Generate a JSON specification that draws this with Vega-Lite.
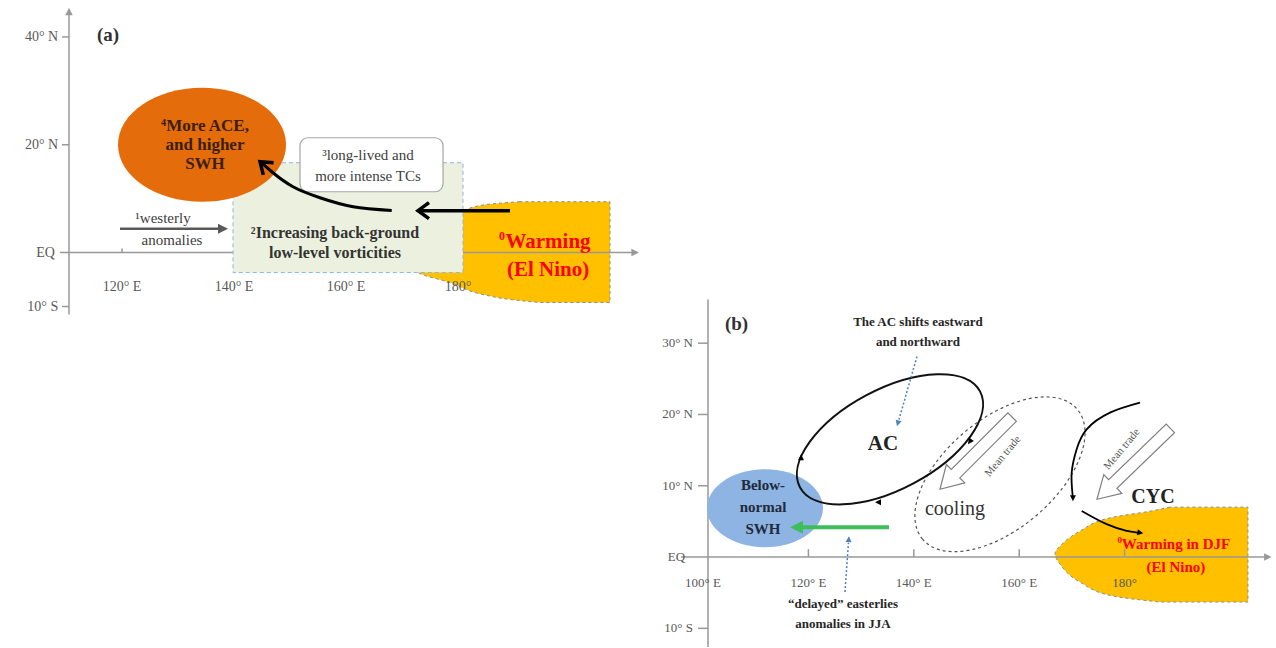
{
  "$schema": "https://vega.github.io/schema/vega-lite/v6.json",
  "width": 1276,
  "height": 648,
  "autosize": {"type": "fit", "contains": "padding"},
  "padding": 0,
  "background": "white",
  "config": {"view": {"stroke": null}, "font": "Liberation Serif"},
  "datasets": {
    "aRules": [
      {"lon": 110.53, "lon2": 110.53, "lat": -11.48, "lat2": 44.3},
      {"lon": 108.9, "lon2": 211.5, "lat": 0, "lat2": 0},
      {"lon": 109.28, "lon2": 110.53, "lat": 40, "lat2": 40},
      {"lon": 109.28, "lon2": 110.53, "lat": 20, "lat2": 20},
      {"lon": 109.28, "lon2": 110.53, "lat": -10, "lat2": -10},
      {"lon": 120, "lon2": 120, "lat": 0, "lat2": 0.74}
    ],
    "aHeads": [
      {"lon": 110.53, "lat": 45.4, "ang": 270, "col": "#999999", "sz": 2.25},
      {"lon": 212.3, "lat": 0, "ang": 0, "col": "#999999", "sz": 2.25},
      {"lon": 138.93, "lat": 4.44, "ang": 0, "col": "#595959", "sz": 4}
    ],
    "aChev": [
      {"lon": 172.85, "lat": 7.78, "ang": 180},
      {"lon": 144.64, "lat": 16.85, "ang": 220}
    ],
    "aLines": [
      {"g": "w", "i": 0, "lon": 119.64, "lat": 4.44, "col": "#595959", "w": 2.5},
      {"g": "w", "i": 1, "lon": 137.7, "lat": 4.44, "col": "#595959", "w": 2.5},
      {"g": "s", "i": 0, "lon": 189.28, "lat": 7.78, "col": "#000000", "w": 3.5},
      {"g": "s", "i": 1, "lon": 173.3, "lat": 7.78, "col": "#000000", "w": 3.5},
      {"g": "c", "i": 0, "lon": 168.16, "lat": 7.83, "col": "#000000", "w": 3},
      {"g": "c", "i": 1, "lon": 161.25, "lat": 8.52, "col": "#000000", "w": 3},
      {"g": "c", "i": 2, "lon": 155.35, "lat": 10.18, "col": "#000000", "w": 3},
      {"g": "c", "i": 3, "lon": 150.53, "lat": 12.22, "col": "#000000", "w": 3},
      {"g": "c", "i": 4, "lon": 146.96, "lat": 14.81, "col": "#000000", "w": 3},
      {"g": "c", "i": 5, "lon": 145.0, "lat": 16.6, "col": "#000000", "w": 3}
    ],
    "aArea": [
      {"lat": 9.44, "lonL": 191.07, "lonR": 207.14},
      {"lat": 8.89, "lonL": 184.82, "lonR": 207.14},
      {"lat": 7.04, "lonL": 179.46, "lonR": 207.14},
      {"lat": 2.41, "lonL": 173.21, "lonR": 207.14},
      {"lat": -1.67, "lonL": 171.43, "lonR": 207.14},
      {"lat": -3.7, "lonL": 172.85, "lonR": 207.14},
      {"lat": -5.56, "lonL": 178.57, "lonR": 207.14},
      {"lat": -7.78, "lonL": 184.46, "lonR": 207.14},
      {"lat": -8.7, "lonL": 189.28, "lonR": 207.14},
      {"lat": -9.26, "lonL": 194.64, "lonR": 207.14}
    ],
    "aGreen": [{"lon": 139.82, "lon2": 180.89, "lat": 16.66, "lat2": -3.7}],
    "aWhite": [{"lon": 151.78, "lon2": 177.32, "lat": 21.3, "lat2": 11.29}],
    "aEll": [{"lon": 134.28, "lat": 20.0}],
    "aTickL": [
      {"lon": 108.6, "lat": 40, "t": "40° N"},
      {"lon": 108.6, "lat": 20, "t": "20° N"},
      {"lon": 108.0, "lat": 0, "t": "EQ"},
      {"lon": 108.6, "lat": -10, "t": "10° S"}
    ],
    "aTickB": [
      {"lon": 120, "lat": -6.3, "t": "120° E"},
      {"lon": 140, "lat": -6.3, "t": "140° E"},
      {"lon": 160, "lat": -6.3, "t": "160° E"},
      {"lon": 180, "lat": -6.3, "t": "180°"}
    ],
    "aTitle": [{"lon": 115.53, "lat": 40.37, "t": "(a)"}],
    "aEllText": [{"lon": 134.82, "lat": 20.0, "t": "⁴More ACE,\nand higher\nSWH"}],
    "aGreenText": [{"lon": 158.03, "lat": 1.85, "t": "²Increasing back-ground\nlow-level vorticities"}],
    "aWhiteText": [{"lon": 163.92, "lat": 16.11, "t": "³long-lived and\nmore intense TCs"}],
    "aWestText": [
      {"lon": 127.32, "lat": 6.48, "t": "¹westerly"},
      {"lon": 128.93, "lat": 2.41, "t": "anomalies"}
    ],
    "aWarmText": [{"lon": 196.07, "lat": -0.56, "t": "Warming\n(El Nino)"}],
    "aWarmSup": [{"lon": 196.07, "lat": -0.56, "t": "0"}],
    "bRules": [
      {"lon": 100.95, "lon2": 100.95, "lat": -12.62, "lat2": 36.12},
      {"lon": 95.8, "lon2": 207.2, "lat": 0, "lat2": 0},
      {"lon": 99.05, "lon2": 100.95, "lat": 30, "lat2": 30},
      {"lon": 99.05, "lon2": 100.95, "lat": 20, "lat2": 20},
      {"lon": 99.05, "lon2": 100.95, "lat": 10, "lat2": 10},
      {"lon": 99.05, "lon2": 100.95, "lat": -10, "lat2": -10},
      {"lon": 120, "lon2": 120, "lat": 0, "lat2": 1.1},
      {"lon": 140, "lon2": 140, "lat": 0, "lat2": 1.1},
      {"lon": 160, "lon2": 160, "lat": 0, "lat2": 1.1},
      {"lon": 180, "lon2": 180, "lat": 0, "lat2": 1.1}
    ],
    "bHeads": [
      {"lon": 207.9, "lat": 0, "ang": 0, "col": "#999999", "sz": 2.25},
      {"lon": 116.51, "lat": 4.19, "ang": 180, "col": "#3DBE5A", "sz": 6.76},
      {"lon": 136.81, "lat": 18.34, "ang": 106, "col": "#4F81BD", "sz": 1.44},
      {"lon": 127.7, "lat": 2.93, "ang": 274, "col": "#4F81BD", "sz": 1.44},
      {"lon": 118.6, "lat": 14.41, "ang": 270, "col": "#000000", "sz": 1.44},
      {"lon": 132.64, "lat": 7.69, "ang": 180, "col": "#000000", "sz": 1.44},
      {"lon": 150.28, "lat": 15.82, "ang": 125, "col": "#000000", "sz": 1.44},
      {"lon": 170.2, "lat": 7.83, "ang": 90, "col": "#000000", "sz": 1.44},
      {"lon": 183.55, "lat": 3.35, "ang": 8, "col": "#000000", "sz": 1.44}
    ],
    "bLines": [
      {"g": "green", "i": 0, "lon": 135.29, "lat": 4.19, "col": "#3DBE5A", "w": 4},
      {"g": "green", "i": 1, "lon": 118.6, "lat": 4.19, "col": "#3DBE5A", "w": 4},
      {"g": "c1", "i": 0, "lon": 182.92, "lat": 21.66, "col": "#000000", "w": 1.8},
      {"g": "c1", "i": 1, "lon": 177.23, "lat": 20.26, "col": "#000000", "w": 1.8},
      {"g": "c1", "i": 2, "lon": 172.8, "lat": 17.92, "col": "#000000", "w": 1.8},
      {"g": "c1", "i": 3, "lon": 170.9, "lat": 15.12, "col": "#000000", "w": 1.8},
      {"g": "c1", "i": 4, "lon": 169.96, "lat": 11.85, "col": "#000000", "w": 1.8},
      {"g": "c1", "i": 5, "lon": 170.15, "lat": 8.58, "col": "#000000", "w": 1.8},
      {"g": "c2", "i": 0, "lon": 171.86, "lat": 6.47, "col": "#000000", "w": 1.8},
      {"g": "c2", "i": 1, "lon": 176.6, "lat": 4.61, "col": "#000000", "w": 1.8},
      {"g": "c2", "i": 2, "lon": 180.4, "lat": 3.67, "col": "#000000", "w": 1.8},
      {"g": "c2", "i": 3, "lon": 182.8, "lat": 3.4, "col": "#000000", "w": 1.8}
    ],
    "bDots": [
      {"g": "d1", "i": 0, "lon": 140.6, "lat": 28.14},
      {"g": "d1", "i": 1, "lon": 137.2, "lat": 19.3},
      {"g": "d2", "i": 0, "lon": 126.94, "lat": -4.91},
      {"g": "d2", "i": 1, "lon": 127.6, "lat": 2.0}
    ],
    "bArea": [
      {"lat": 7.0, "lonL": 188.6, "lonR": 203.41},
      {"lat": 6.43, "lonL": 184.82, "lonR": 203.41},
      {"lat": 5.59, "lonL": 177.8, "lonR": 203.41},
      {"lat": 3.63, "lonL": 171.53, "lonR": 203.41},
      {"lat": 1.81, "lonL": 168.12, "lonR": 203.41},
      {"lat": 0.41, "lonL": 166.79, "lonR": 203.41},
      {"lat": -0.99, "lonL": 167.74, "lonR": 203.41},
      {"lat": -3.51, "lonL": 171.53, "lonR": 203.41},
      {"lat": -5.47, "lonL": 177.8, "lonR": 203.41},
      {"lat": -6.31, "lonL": 186.71, "lonR": 203.41}
    ],
    "bBlue": [{"lon": 111.76, "lat": 6.85}],
    "bCool": [{"lon": 156.35, "lat": 11.61}],
    "bAC": [{"lon": 135.48, "lat": 16.52}],
    "bTrade": [
      {"lon": 144.97, "lat": 9.51, "ang": 135},
      {"lon": 174.76, "lat": 8.11, "ang": 136}
    ],
    "bTickL": [
      {"lon": 98.1, "lat": 30, "t": "30° N"},
      {"lon": 98.1, "lat": 20, "t": "20° N"},
      {"lon": 98.1, "lat": 10, "t": "10° N"},
      {"lon": 96.6, "lat": 0, "t": "EQ"},
      {"lon": 98.1, "lat": -10, "t": "10° S"}
    ],
    "bTickB": [
      {"lon": 100, "lat": -3.65, "t": "100° E"},
      {"lon": 120, "lat": -3.65, "t": "120° E"},
      {"lon": 140, "lat": -3.65, "t": "140° E"},
      {"lon": 160, "lat": -3.65, "t": "160° E"},
      {"lon": 180, "lat": -3.65, "t": "180°"}
    ],
    "bTitle": [{"lon": 104.17, "lat": 32.62, "t": "(b)"}],
    "bBlueText": [{"lon": 111.38, "lat": 6.99, "t": "Below-\nnormal\nSWH"}],
    "bACText": [{"lon": 134.15, "lat": 15.82, "t": "AC"}],
    "bSmallBold": [
      {"lon": 140.79, "lat": 31.5, "t": "The AC shifts eastward\nand northward"},
      {"lon": 126.56, "lat": -7.99, "t": "“delayed” easterlies\nanomalies in JJA"}
    ],
    "bCoolText": [{"lon": 147.81, "lat": 6.71, "t": "cooling"}],
    "bTradeText": [
      {"lon": 156.92, "lat": 14.13, "t": "Mean trade"},
      {"lon": 179.5, "lat": 15.12, "t": "Mean trade"}
    ],
    "bCYC": [{"lon": 185.39, "lat": 8.39, "t": "CYC"}],
    "bWarmText": [{"lon": 189.75, "lat": 0.2, "t": "Warming in DJF\n(El Nino)"}],
    "bWarmSup": [{"lon": 189.75, "lat": 0.2, "t": "0"}]
  },
  "resolve": {"scale": {"x": "independent", "y": "independent"}},
  "layer": [
    {
      "layer": [
        {
          "data": {"name": "aArea"},
          "mark": {"type": "area", "orient": "horizontal", "interpolate": "monotone", "fill": "#FFC000", "opacity": 1, "stroke": "#7A8FA6", "strokeWidth": 1, "strokeDash": [3, 3]},
          "encoding": {
            "x": {"field": "lonL", "type": "quantitative", "scale": {"domain": [98.21, 326.07], "nice": false, "zero": false}, "axis": null},
            "x2": {"field": "lonR"},
            "y": {"field": "lat", "type": "quantitative", "scale": {"domain": [-73.15, 46.85], "nice": false, "zero": false}, "axis": null}
          }
        },
        {
          "data": {"name": "aRules"},
          "mark": {"type": "rule", "color": "#999999", "strokeWidth": 1.5},
          "encoding": {
            "x": {"field": "lon", "type": "quantitative", "scale": {"domain": [98.21, 326.07], "nice": false, "zero": false}, "axis": null},
            "x2": {"field": "lon2"},
            "y": {"field": "lat", "type": "quantitative", "scale": {"domain": [-73.15, 46.85], "nice": false, "zero": false}, "axis": null},
            "y2": {"field": "lat2"}
          }
        },
        {
          "data": {"name": "aGreen"},
          "mark": {"type": "rect", "fill": "#EBF1DE", "stroke": "#8EB4E3", "strokeWidth": 1, "strokeDash": [4, 3]},
          "encoding": {
            "x": {"field": "lon", "type": "quantitative", "scale": {"domain": [98.21, 326.07], "nice": false, "zero": false}, "axis": null},
            "x2": {"field": "lon2"},
            "y": {"field": "lat", "type": "quantitative", "scale": {"domain": [-73.15, 46.85], "nice": false, "zero": false}, "axis": null},
            "y2": {"field": "lat2"}
          }
        },
        {
          "data": {"name": "aEll"},
          "mark": {"type": "point", "shape": "M -84 0 A 84 57 0 1 1 84 0 A 84 57 0 1 1 -84 0 Z", "size": 4, "filled": true, "fill": "#E46C0A", "opacity": 1, "strokeWidth": 0},
          "encoding": {
            "x": {"field": "lon", "type": "quantitative", "scale": {"domain": [98.21, 326.07], "nice": false, "zero": false}, "axis": null},
            "y": {"field": "lat", "type": "quantitative", "scale": {"domain": [-73.15, 46.85], "nice": false, "zero": false}, "axis": null}
          }
        },
        {
          "data": {"name": "aWhite"},
          "mark": {"type": "rect", "fill": "#FFFFFF", "stroke": "#A6A6A6", "strokeWidth": 1.2, "cornerRadius": 8},
          "encoding": {
            "x": {"field": "lon", "type": "quantitative", "scale": {"domain": [98.21, 326.07], "nice": false, "zero": false}, "axis": null},
            "x2": {"field": "lon2"},
            "y": {"field": "lat", "type": "quantitative", "scale": {"domain": [-73.15, 46.85], "nice": false, "zero": false}, "axis": null},
            "y2": {"field": "lat2"}
          }
        },
        {
          "data": {"name": "aLines"},
          "mark": {"type": "line", "interpolate": "natural", "strokeCap": "butt"},
          "encoding": {
            "x": {"field": "lon", "type": "quantitative", "scale": {"domain": [98.21, 326.07], "nice": false, "zero": false}, "axis": null},
            "y": {"field": "lat", "type": "quantitative", "scale": {"domain": [-73.15, 46.85], "nice": false, "zero": false}, "axis": null},
            "order": {"field": "i"},
            "detail": {"field": "g"},
            "color": {"field": "col", "type": "nominal", "scale": null},
            "strokeWidth": {"field": "w", "type": "quantitative", "scale": null}
          }
        },
        {
          "data": {"name": "aHeads"},
          "mark": {"type": "point", "shape": "M 0 0 L -10 -5 L -10 5 Z", "filled": true, "opacity": 1, "strokeWidth": 0},
          "encoding": {
            "x": {"field": "lon", "type": "quantitative", "scale": {"domain": [98.21, 326.07], "nice": false, "zero": false}, "axis": null},
            "y": {"field": "lat", "type": "quantitative", "scale": {"domain": [-73.15, 46.85], "nice": false, "zero": false}, "axis": null},
            "angle": {"field": "ang", "type": "quantitative", "scale": null},
            "color": {"field": "col", "type": "nominal", "scale": null},
            "size": {"field": "sz", "type": "quantitative", "scale": null}
          }
        },
        {
          "data": {"name": "aChev"},
          "mark": {"type": "point", "shape": "M -11 -8 L 0 0 L -11 8", "size": 4, "filled": false, "opacity": 1, "stroke": "#000000", "strokeWidth": 3.5},
          "encoding": {
            "x": {"field": "lon", "type": "quantitative", "scale": {"domain": [98.21, 326.07], "nice": false, "zero": false}, "axis": null},
            "y": {"field": "lat", "type": "quantitative", "scale": {"domain": [-73.15, 46.85], "nice": false, "zero": false}, "axis": null},
            "angle": {"field": "ang", "type": "quantitative", "scale": null}
          }
        },
        {
          "data": {"name": "aTickL"},
          "mark": {"type": "text", "font": "Liberation Serif", "fontSize": 14, "color": "#595959", "align": "right", "baseline": "middle"},
          "encoding": {
            "x": {"field": "lon", "type": "quantitative", "scale": {"domain": [98.21, 326.07], "nice": false, "zero": false}, "axis": null},
            "y": {"field": "lat", "type": "quantitative", "scale": {"domain": [-73.15, 46.85], "nice": false, "zero": false}, "axis": null},
            "text": {"field": "t"}
          }
        },
        {
          "data": {"name": "aTickB"},
          "mark": {"type": "text", "font": "Liberation Serif", "fontSize": 14, "color": "#595959", "align": "center", "baseline": "middle"},
          "encoding": {
            "x": {"field": "lon", "type": "quantitative", "scale": {"domain": [98.21, 326.07], "nice": false, "zero": false}, "axis": null},
            "y": {"field": "lat", "type": "quantitative", "scale": {"domain": [-73.15, 46.85], "nice": false, "zero": false}, "axis": null},
            "text": {"field": "t"}
          }
        },
        {
          "data": {"name": "aTitle"},
          "mark": {"type": "text", "font": "Liberation Serif", "fontSize": 19, "fontWeight": "bold", "color": "#333333", "align": "left", "baseline": "middle"},
          "encoding": {
            "x": {"field": "lon", "type": "quantitative", "scale": {"domain": [98.21, 326.07], "nice": false, "zero": false}, "axis": null},
            "y": {"field": "lat", "type": "quantitative", "scale": {"domain": [-73.15, 46.85], "nice": false, "zero": false}, "axis": null},
            "text": {"field": "t"}
          }
        },
        {
          "data": {"name": "aEllText"},
          "mark": {"type": "text", "font": "Liberation Serif", "fontSize": 17, "fontWeight": "bold", "color": "#3A1E05", "align": "center", "baseline": "middle", "lineBreak": "\n", "lineHeight": 19, "dy": -19},
          "encoding": {
            "x": {"field": "lon", "type": "quantitative", "scale": {"domain": [98.21, 326.07], "nice": false, "zero": false}, "axis": null},
            "y": {"field": "lat", "type": "quantitative", "scale": {"domain": [-73.15, 46.85], "nice": false, "zero": false}, "axis": null},
            "text": {"field": "t"}
          }
        },
        {
          "data": {"name": "aGreenText"},
          "mark": {"type": "text", "font": "Liberation Serif", "fontSize": 16, "fontWeight": "bold", "color": "#333333", "align": "center", "baseline": "middle", "lineBreak": "\n", "lineHeight": 20, "dy": -10},
          "encoding": {
            "x": {"field": "lon", "type": "quantitative", "scale": {"domain": [98.21, 326.07], "nice": false, "zero": false}, "axis": null},
            "y": {"field": "lat", "type": "quantitative", "scale": {"domain": [-73.15, 46.85], "nice": false, "zero": false}, "axis": null},
            "text": {"field": "t"}
          }
        },
        {
          "data": {"name": "aWhiteText"},
          "mark": {"type": "text", "font": "Liberation Serif", "fontSize": 15, "color": "#404040", "align": "center", "baseline": "middle", "lineBreak": "\n", "lineHeight": 21, "dy": -10.5},
          "encoding": {
            "x": {"field": "lon", "type": "quantitative", "scale": {"domain": [98.21, 326.07], "nice": false, "zero": false}, "axis": null},
            "y": {"field": "lat", "type": "quantitative", "scale": {"domain": [-73.15, 46.85], "nice": false, "zero": false}, "axis": null},
            "text": {"field": "t"}
          }
        },
        {
          "data": {"name": "aWestText"},
          "mark": {"type": "text", "font": "Liberation Serif", "fontSize": 15, "color": "#404040", "align": "center", "baseline": "middle"},
          "encoding": {
            "x": {"field": "lon", "type": "quantitative", "scale": {"domain": [98.21, 326.07], "nice": false, "zero": false}, "axis": null},
            "y": {"field": "lat", "type": "quantitative", "scale": {"domain": [-73.15, 46.85], "nice": false, "zero": false}, "axis": null},
            "text": {"field": "t"}
          }
        },
        {
          "data": {"name": "aWarmText"},
          "mark": {"type": "text", "font": "Liberation Serif", "fontSize": 21, "fontWeight": "bold", "color": "#FF0000", "align": "center", "baseline": "middle", "lineBreak": "\n", "lineHeight": 28, "dy": -14},
          "encoding": {
            "x": {"field": "lon", "type": "quantitative", "scale": {"domain": [98.21, 326.07], "nice": false, "zero": false}, "axis": null},
            "y": {"field": "lat", "type": "quantitative", "scale": {"domain": [-73.15, 46.85], "nice": false, "zero": false}, "axis": null},
            "text": {"field": "t"}
          }
        },
        {
          "data": {"name": "aWarmSup"},
          "mark": {"type": "text", "font": "Liberation Serif", "fontSize": 12, "fontWeight": "bold", "color": "#FF0000", "align": "right", "baseline": "middle", "dx": -43, "dy": -20},
          "encoding": {
            "x": {"field": "lon", "type": "quantitative", "scale": {"domain": [98.21, 326.07], "nice": false, "zero": false}, "axis": null},
            "y": {"field": "lat", "type": "quantitative", "scale": {"domain": [-73.15, 46.85], "nice": false, "zero": false}, "axis": null},
            "text": {"field": "t"}
          }
        }
      ]
    },
    {
      "layer": [
        {
          "data": {"name": "bArea"},
          "mark": {"type": "area", "orient": "horizontal", "interpolate": "monotone", "fill": "#FFC000", "opacity": 1, "stroke": "#7A8FA6", "strokeWidth": 1, "strokeDash": [3, 3]},
          "encoding": {
            "x": {"field": "lonL", "type": "quantitative", "scale": {"domain": [-33.4, 208.73], "nice": false, "zero": false}, "axis": null},
            "x2": {"field": "lonR"},
            "y": {"field": "lat", "type": "quantitative", "scale": {"domain": [-12.62, 78.14], "nice": false, "zero": false}, "axis": null}
          }
        },
        {
          "data": {"name": "bRules"},
          "mark": {"type": "rule", "color": "#999999", "strokeWidth": 1.5},
          "encoding": {
            "x": {"field": "lon", "type": "quantitative", "scale": {"domain": [-33.4, 208.73], "nice": false, "zero": false}, "axis": null},
            "x2": {"field": "lon2"},
            "y": {"field": "lat", "type": "quantitative", "scale": {"domain": [-12.62, 78.14], "nice": false, "zero": false}, "axis": null},
            "y2": {"field": "lat2"}
          }
        },
        {
          "data": {"name": "bBlue"},
          "mark": {"type": "point", "shape": "M -58 0 A 58 39 0 1 1 58 0 A 58 39 0 1 1 -58 0 Z", "size": 4, "filled": true, "fill": "#8DB4E2", "opacity": 1, "strokeWidth": 0},
          "encoding": {
            "x": {"field": "lon", "type": "quantitative", "scale": {"domain": [-33.4, 208.73], "nice": false, "zero": false}, "axis": null},
            "y": {"field": "lat", "type": "quantitative", "scale": {"domain": [-12.62, 78.14], "nice": false, "zero": false}, "axis": null}
          }
        },
        {
          "data": {"name": "bCool"},
          "mark": {"type": "point", "shape": "M -101 0 A 101 55 0 1 1 101 0 A 101 55 0 1 1 -101 0 Z", "size": 4, "filled": false, "opacity": 1, "stroke": "#555555", "strokeWidth": 1.2, "strokeDash": [3, 3], "angle": 320},
          "encoding": {
            "x": {"field": "lon", "type": "quantitative", "scale": {"domain": [-33.4, 208.73], "nice": false, "zero": false}, "axis": null},
            "y": {"field": "lat", "type": "quantitative", "scale": {"domain": [-12.62, 78.14], "nice": false, "zero": false}, "axis": null}
          }
        },
        {
          "data": {"name": "bAC"},
          "mark": {"type": "point", "shape": "M -102 0 A 102 50 0 1 1 102 0 A 102 50 0 1 1 -102 0 Z", "size": 4, "filled": false, "opacity": 1, "stroke": "#111111", "strokeWidth": 2, "angle": 332},
          "encoding": {
            "x": {"field": "lon", "type": "quantitative", "scale": {"domain": [-33.4, 208.73], "nice": false, "zero": false}, "axis": null},
            "y": {"field": "lat", "type": "quantitative", "scale": {"domain": [-12.62, 78.14], "nice": false, "zero": false}, "axis": null}
          }
        },
        {
          "data": {"name": "bTrade"},
          "mark": {"type": "point", "shape": "M 0 0 L -22 -13 L -22 -6 L -102 -6 L -102 6 L -22 6 L -22 13 Z", "size": 4, "filled": true, "fill": "#FFFFFF", "opacity": 1, "stroke": "#7F7F7F", "strokeWidth": 1.2},
          "encoding": {
            "x": {"field": "lon", "type": "quantitative", "scale": {"domain": [-33.4, 208.73], "nice": false, "zero": false}, "axis": null},
            "y": {"field": "lat", "type": "quantitative", "scale": {"domain": [-12.62, 78.14], "nice": false, "zero": false}, "axis": null},
            "angle": {"field": "ang", "type": "quantitative", "scale": null}
          }
        },
        {
          "data": {"name": "bLines"},
          "mark": {"type": "line", "interpolate": "natural", "strokeCap": "butt"},
          "encoding": {
            "x": {"field": "lon", "type": "quantitative", "scale": {"domain": [-33.4, 208.73], "nice": false, "zero": false}, "axis": null},
            "y": {"field": "lat", "type": "quantitative", "scale": {"domain": [-12.62, 78.14], "nice": false, "zero": false}, "axis": null},
            "order": {"field": "i"},
            "detail": {"field": "g"},
            "color": {"field": "col", "type": "nominal", "scale": null},
            "strokeWidth": {"field": "w", "type": "quantitative", "scale": null}
          }
        },
        {
          "data": {"name": "bDots"},
          "mark": {"type": "line", "color": "#4F81BD", "strokeWidth": 1.5, "strokeDash": [2, 2]},
          "encoding": {
            "x": {"field": "lon", "type": "quantitative", "scale": {"domain": [-33.4, 208.73], "nice": false, "zero": false}, "axis": null},
            "y": {"field": "lat", "type": "quantitative", "scale": {"domain": [-12.62, 78.14], "nice": false, "zero": false}, "axis": null},
            "order": {"field": "i"},
            "detail": {"field": "g"}
          }
        },
        {
          "data": {"name": "bHeads"},
          "mark": {"type": "point", "shape": "M 0 0 L -10 -5 L -10 5 Z", "filled": true, "opacity": 1, "strokeWidth": 0},
          "encoding": {
            "x": {"field": "lon", "type": "quantitative", "scale": {"domain": [-33.4, 208.73], "nice": false, "zero": false}, "axis": null},
            "y": {"field": "lat", "type": "quantitative", "scale": {"domain": [-12.62, 78.14], "nice": false, "zero": false}, "axis": null},
            "angle": {"field": "ang", "type": "quantitative", "scale": null},
            "color": {"field": "col", "type": "nominal", "scale": null},
            "size": {"field": "sz", "type": "quantitative", "scale": null}
          }
        },
        {
          "data": {"name": "bTickL"},
          "mark": {"type": "text", "font": "Liberation Serif", "fontSize": 13, "color": "#595959", "align": "right", "baseline": "middle"},
          "encoding": {
            "x": {"field": "lon", "type": "quantitative", "scale": {"domain": [-33.4, 208.73], "nice": false, "zero": false}, "axis": null},
            "y": {"field": "lat", "type": "quantitative", "scale": {"domain": [-12.62, 78.14], "nice": false, "zero": false}, "axis": null},
            "text": {"field": "t"}
          }
        },
        {
          "data": {"name": "bTickB"},
          "mark": {"type": "text", "font": "Liberation Serif", "fontSize": 13, "color": "#595959", "align": "center", "baseline": "middle"},
          "encoding": {
            "x": {"field": "lon", "type": "quantitative", "scale": {"domain": [-33.4, 208.73], "nice": false, "zero": false}, "axis": null},
            "y": {"field": "lat", "type": "quantitative", "scale": {"domain": [-12.62, 78.14], "nice": false, "zero": false}, "axis": null},
            "text": {"field": "t"}
          }
        },
        {
          "data": {"name": "bTitle"},
          "mark": {"type": "text", "font": "Liberation Serif", "fontSize": 19, "fontWeight": "bold", "color": "#333333", "align": "left", "baseline": "middle"},
          "encoding": {
            "x": {"field": "lon", "type": "quantitative", "scale": {"domain": [-33.4, 208.73], "nice": false, "zero": false}, "axis": null},
            "y": {"field": "lat", "type": "quantitative", "scale": {"domain": [-12.62, 78.14], "nice": false, "zero": false}, "axis": null},
            "text": {"field": "t"}
          }
        },
        {
          "data": {"name": "bBlueText"},
          "mark": {"type": "text", "font": "Liberation Serif", "fontSize": 15, "fontWeight": "bold", "color": "#1F2A3C", "align": "center", "baseline": "middle", "lineBreak": "\n", "lineHeight": 22, "dy": -22},
          "encoding": {
            "x": {"field": "lon", "type": "quantitative", "scale": {"domain": [-33.4, 208.73], "nice": false, "zero": false}, "axis": null},
            "y": {"field": "lat", "type": "quantitative", "scale": {"domain": [-12.62, 78.14], "nice": false, "zero": false}, "axis": null},
            "text": {"field": "t"}
          }
        },
        {
          "data": {"name": "bACText"},
          "mark": {"type": "text", "font": "Liberation Serif", "fontSize": 21, "fontWeight": "bold", "color": "#222222", "align": "center", "baseline": "middle"},
          "encoding": {
            "x": {"field": "lon", "type": "quantitative", "scale": {"domain": [-33.4, 208.73], "nice": false, "zero": false}, "axis": null},
            "y": {"field": "lat", "type": "quantitative", "scale": {"domain": [-12.62, 78.14], "nice": false, "zero": false}, "axis": null},
            "text": {"field": "t"}
          }
        },
        {
          "data": {"name": "bSmallBold"},
          "mark": {"type": "text", "font": "Liberation Serif", "fontSize": 13, "fontWeight": "bold", "color": "#262626", "align": "center", "baseline": "middle", "lineBreak": "\n", "lineHeight": 20, "dy": -10},
          "encoding": {
            "x": {"field": "lon", "type": "quantitative", "scale": {"domain": [-33.4, 208.73], "nice": false, "zero": false}, "axis": null},
            "y": {"field": "lat", "type": "quantitative", "scale": {"domain": [-12.62, 78.14], "nice": false, "zero": false}, "axis": null},
            "text": {"field": "t"}
          }
        },
        {
          "data": {"name": "bCoolText"},
          "mark": {"type": "text", "font": "Liberation Serif", "fontSize": 20, "color": "#333333", "align": "center", "baseline": "middle"},
          "encoding": {
            "x": {"field": "lon", "type": "quantitative", "scale": {"domain": [-33.4, 208.73], "nice": false, "zero": false}, "axis": null},
            "y": {"field": "lat", "type": "quantitative", "scale": {"domain": [-12.62, 78.14], "nice": false, "zero": false}, "axis": null},
            "text": {"field": "t"}
          }
        },
        {
          "data": {"name": "bTradeText"},
          "mark": {"type": "text", "font": "Liberation Serif", "fontSize": 11, "color": "#595959", "align": "center", "baseline": "middle", "angle": 310},
          "encoding": {
            "x": {"field": "lon", "type": "quantitative", "scale": {"domain": [-33.4, 208.73], "nice": false, "zero": false}, "axis": null},
            "y": {"field": "lat", "type": "quantitative", "scale": {"domain": [-12.62, 78.14], "nice": false, "zero": false}, "axis": null},
            "text": {"field": "t"}
          }
        },
        {
          "data": {"name": "bCYC"},
          "mark": {"type": "text", "font": "Liberation Serif", "fontSize": 20, "fontWeight": "bold", "color": "#222222", "align": "center", "baseline": "middle"},
          "encoding": {
            "x": {"field": "lon", "type": "quantitative", "scale": {"domain": [-33.4, 208.73], "nice": false, "zero": false}, "axis": null},
            "y": {"field": "lat", "type": "quantitative", "scale": {"domain": [-12.62, 78.14], "nice": false, "zero": false}, "axis": null},
            "text": {"field": "t"}
          }
        },
        {
          "data": {"name": "bWarmText"},
          "mark": {"type": "text", "font": "Liberation Serif", "fontSize": 15, "fontWeight": "bold", "color": "#FF0000", "align": "center", "baseline": "middle", "lineBreak": "\n", "lineHeight": 23, "dy": -11.5},
          "encoding": {
            "x": {"field": "lon", "type": "quantitative", "scale": {"domain": [-33.4, 208.73], "nice": false, "zero": false}, "axis": null},
            "y": {"field": "lat", "type": "quantitative", "scale": {"domain": [-12.62, 78.14], "nice": false, "zero": false}, "axis": null},
            "text": {"field": "t"}
          }
        },
        {
          "data": {"name": "bWarmSup"},
          "mark": {"type": "text", "font": "Liberation Serif", "fontSize": 9, "fontWeight": "bold", "color": "#FF0000", "align": "right", "baseline": "middle", "dx": -54, "dy": -16},
          "encoding": {
            "x": {"field": "lon", "type": "quantitative", "scale": {"domain": [-33.4, 208.73], "nice": false, "zero": false}, "axis": null},
            "y": {"field": "lat", "type": "quantitative", "scale": {"domain": [-12.62, 78.14], "nice": false, "zero": false}, "axis": null},
            "text": {"field": "t"}
          }
        }
      ]
    }
  ]
}
